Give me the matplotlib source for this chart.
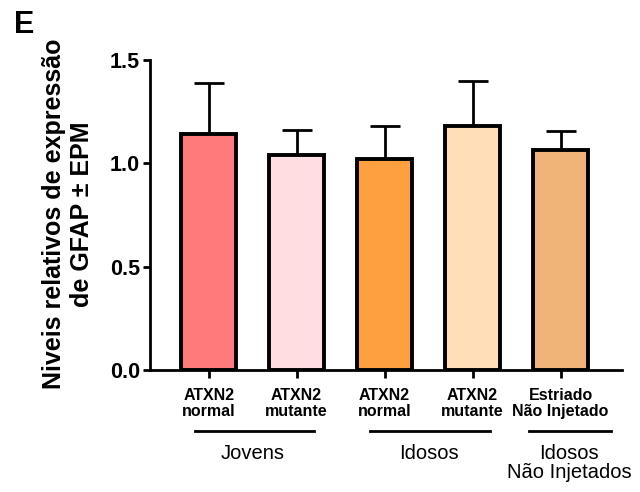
import matplotlib
matplotlib.use("Agg")
import matplotlib.pyplot as plt

plt.rcParams['font.family'] = ['Liberation Sans', 'DejaVu Sans']

# Data
tick_labels = ["ATXN2\nnormal", "ATXN2\nmutante", "ATXN2\nnormal", "ATXN2\nmutante", "Estriado\nNão Injetado"]
means = [1.14, 1.04, 1.02, 1.18, 1.065]
sems = [0.25, 0.12, 0.16, 0.22, 0.09]
colors = ["#FF7B7B", "#FFDDE0", "#FFA040", "#FFDEB8", "#F0B478"]
groups = ["Jovens", "Idosos", "Idosos\nNão Injetados"]
group_spans = [(0, 1), (2, 3), (4, 4)]

fig = plt.figure(figsize=(6.4, 4.92), dpi=100)
ax = fig.add_axes([0.234, 0.248, 0.738, 0.630])

x = list(range(len(means)))
ax.bar(x, means, width=0.62, color=colors, edgecolor="black", linewidth=2.8, zorder=2)
ax.errorbar(x, means, yerr=[[0] * len(sems), sems], fmt="none", ecolor="black",
            elinewidth=2, capsize=11, capthick=2, zorder=1)

ax.set_ylim(0, 1.5)
ax.set_xlim(-0.67, 4.7)
ax.set_yticks([0.0, 0.5, 1.0, 1.5])
ax.set_yticklabels(["0.0", "0.5", "1.0", "1.5"], fontsize=15.5, fontweight="bold")
ax.set_xticks(x)
ax.set_xticklabels(tick_labels, fontsize=11.5, fontweight="bold", linespacing=1.1)
ax.tick_params(axis="y", width=2, length=5, pad=2)
ax.tick_params(axis="x", width=2, length=6, pad=7)
for side in ("top", "right"):
    ax.spines[side].set_visible(False)
for side in ("left", "bottom"):
    ax.spines[side].set_linewidth(2)

fig.text(68 / 640, 1 - 214 / 492, "Niveis relativos de expressão\nde GFAP ± EPM",
         fontsize=18, fontweight="bold", rotation=90, ha="center", va="center",
         linespacing=1.2)

# Group brackets beneath the tick labels
trans = ax.get_xaxis_transform()
bracket_ends = [(-0.16, 1.2), (1.83, 3.2), (3.64, 4.57)]
label_x = [0.5, 2.5, 4.1]
for name, (a, b), lx in zip(groups, bracket_ends, label_x):
    ax.plot([a, b], [-0.197, -0.197], color="black", lw=2,
            transform=trans, clip_on=False)
    ax.text(lx, -0.238, name, transform=trans, ha="center", va="top",
            fontsize=14.5, linespacing=1.0)

fig.text(14 / 640, 1 - 10 / 492, "E", fontsize=22, fontweight="bold", va="top", ha="left")

fig.savefig("out.png", dpi=100)
